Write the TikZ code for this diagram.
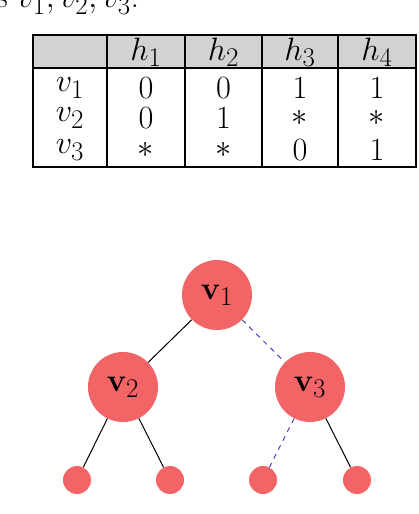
\documentclass[tikz,border=0pt]{standalone}
\usepackage{graphicx}
\usepackage{amsmath}
\newcommand{\szz}[1]{\scalebox{1.3}{#1}}
\begin{document}
\begin{tikzpicture}[x=1pt,y=-1pt,
  tbl/.style={line width=1.3pt},
  cell/.style={font=\fontsize{24.88}{30}\selectfont, inner sep=0pt},
  big/.style={circle, fill=nodered, minimum size=70pt, inner sep=0pt, font=\fontsize{24.88}{30}\selectfont},
  leaf/.style={circle, fill=nodered, minimum size=28pt, inner sep=0pt},
  solidedge/.style={black, line width=1pt},
  dashedge/.style={draw={rgb,255:red,70;green,70;blue,190}, line width=1pt, dash pattern=on 5pt off 5pt}]
\definecolor{nodered}{RGB}{242,100,102}
\useasboundingbox (0,0) rectangle (418,514);
\clip (0,0) rectangle (418,514);
% top text
\node[anchor=base west, inner sep=0pt, font=\fontsize{24.88}{30}\selectfont] (top) at (-4,8) {\szz{s $v_1, v_2, v_3$.}};
% table
\fill[gray!35] (33,35) rectangle (416,68);
\draw[tbl] (33,35) rectangle (416,167);
\draw[tbl] (33,68) -- (416,68);
\foreach \x in {107,185,262,338} \draw[tbl] (\x,35) -- (\x,167);
\node[cell] (h1) at (146,52) {\szz{$h_1$}};
\node[cell] (h2) at (223.5,52) {\szz{$h_2$}};
\node[cell] (h3) at (300,52) {\szz{$h_3$}};
\node[cell] (h4) at (377,52) {\szz{$h_4$}};
\node[cell] (r1) at (70,88) {\szz{$v_1$}};
\node[cell] (r2) at (70,118) {\szz{$v_2$}};
\node[cell] (r3) at (70,150) {\szz{$v_3$}};
\node[cell] at (146,88) {\szz{0}};
\node[cell] at (223.5,88) {\szz{0}};
\node[cell] at (300,88) {\szz{1}};
\node[cell] at (377,88) {\szz{1}};
\node[cell] at (146,118) {\szz{0}};
\node[cell] at (223.5,118) {\szz{1}};
\node[cell] at (300,118) {\szz{$*$}};
\node[cell] at (377,118) {\szz{$*$}};
\node[cell] at (146,150) {\szz{$*$}};
\node[cell] at (223.5,150) {\szz{$*$}};
\node[cell] at (300,150) {\szz{0}};
\node[cell] at (377,150) {\szz{1}};
% tree
\node[big] (v1) at (217,295) {\szz{$\mathbf{v}_1$}};
\node[big] (v2) at (123,387) {\szz{$\mathbf{v}_2$}};
\node[big] (v3) at (310,387) {\szz{$\mathbf{v}_3$}};
\node[leaf] (l1) at (77,480) {};
\node[leaf] (l2) at (170,480) {};
\node[leaf] (l3) at (263,480) {};
\node[leaf] (l4) at (357,480) {};
\draw[solidedge] (v1) -- (v2);
\draw[dashedge] (v1) -- (v3);
\draw[solidedge] (v2) -- (l1);
\draw[solidedge] (v2) -- (l2);
\draw[dashedge] (v3) -- (l3);
\draw[solidedge] (v3) -- (l4);
\end{tikzpicture}
\end{document}
